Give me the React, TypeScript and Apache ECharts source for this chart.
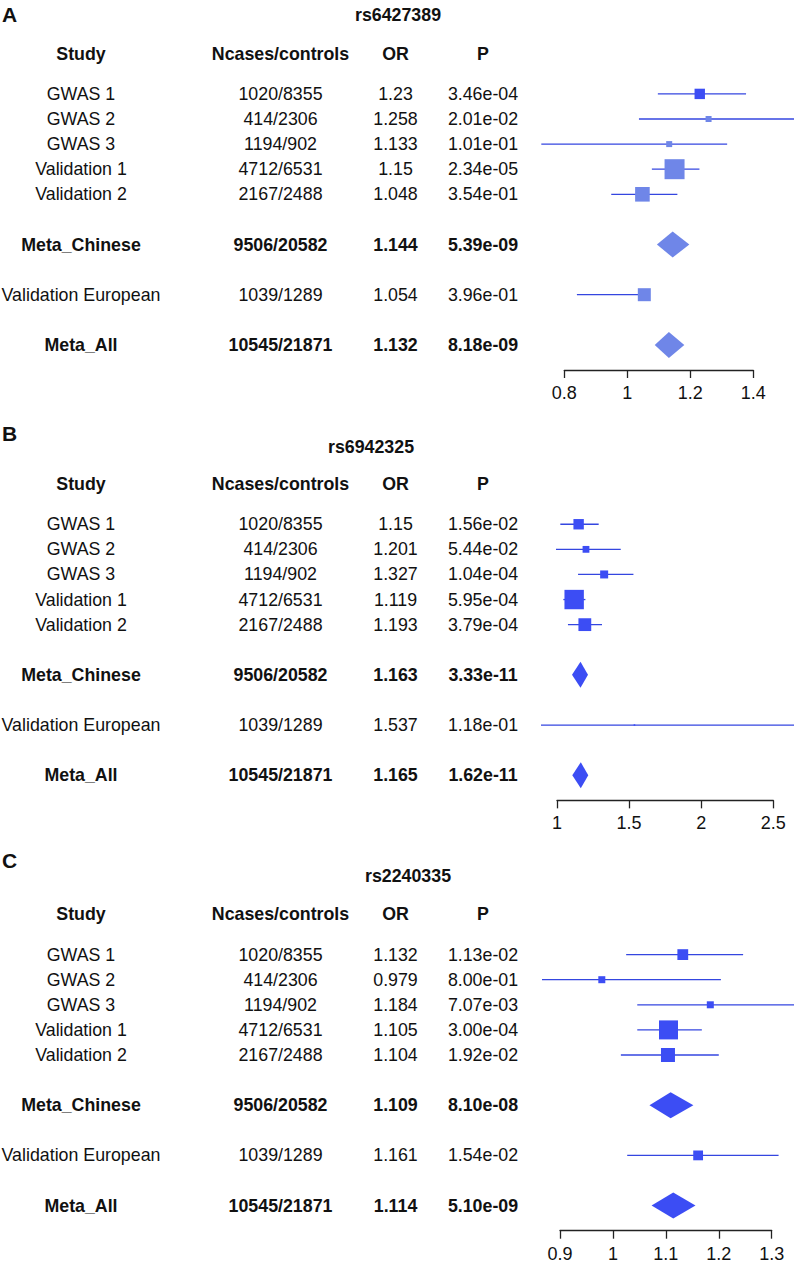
import React, { useEffect, useRef } from "react";
import * as echarts from "echarts";

// ---------- shared table columns ----------
const HEADERS = ["Study", "Ncases/controls", "OR", "P"];
const STUDIES = [
  "GWAS 1",
  "GWAS 2",
  "GWAS 3",
  "Validation 1",
  "Validation 2",
  "Meta_Chinese",
  "Validation European",
  "Meta_All",
];
const NCASES = [
  "1020/8355",
  "414/2306",
  "1194/902",
  "4712/6531",
  "2167/2488",
  "9506/20582",
  "1039/1289",
  "10545/21871",
];
const ROW_POS = [0, 1, 2, 3, 4, 6, 8, 10];
const IS_META = [false, false, false, false, false, true, false, true];

// ---------- panel A : rs6427389 ----------
const SNP_A = "rs6427389";
const OR_A = [1.23, 1.258, 1.133, 1.15, 1.048, 1.144, 1.054, 1.132];
const P_A = ["3.46e-04", "2.01e-02", "1.01e-01", "2.34e-05", "3.54e-01", "5.39e-09", "3.96e-01", "8.18e-09"];
const LO_A = [1.097, 1.037, 0.727, 1.078, 0.949, 1.094, 0.84, 1.087];
const HI_A = [1.377, 1.56, 1.317, 1.229, 1.159, 1.197, 1.07, 1.181];
const W_A = [0.52, 0.3, 0.3, 1.0, 0.73, 0, 0.65, 0];
const TICKS_A = [0.8, 1, 1.2, 1.4];
const TICK_LABELS_A = ["0.8", "1", "1.2", "1.4"];

// ---------- panel B : rs6942325 ----------
const SNP_B = "rs6942325";
const OR_B = [1.15, 1.201, 1.327, 1.119, 1.193, 1.163, 1.537, 1.165];
const P_B = ["1.56e-02", "5.44e-02", "1.04e-04", "5.95e-04", "3.79e-04", "3.33e-11", "1.18e-01", "1.62e-11"];
const LO_B = [1.023, 0.993, 1.146, 1.044, 1.076, 1.104, 0.889, 1.106];
const HI_B = [1.289, 1.442, 1.53, 1.197, 1.312, 1.215, 2.7, 1.217];
const W_B = [0.52, 0.34, 0.4, 0.97, 0.64, 0, 0.08, 0];
const TICKS_B = [1, 1.5, 2, 2.5];
const TICK_LABELS_B = ["1", "1.5", "2", "2.5"];

// ---------- panel C : rs2240335 ----------
const SNP_C = "rs2240335";
const OR_C = [1.132, 0.979, 1.184, 1.105, 1.104, 1.109, 1.161, 1.114];
const P_C = ["1.13e-02", "8.00e-01", "7.07e-03", "3.00e-04", "1.92e-02", "8.10e-08", "1.54e-02", "5.10e-09"];
const LO_C = [1.025, 0.866, 1.046, 1.046, 1.015, 1.069, 1.027, 1.073];
const HI_C = [1.246, 1.204, 1.36, 1.168, 1.2, 1.152, 1.313, 1.156];
const W_C = [0.54, 0.35, 0.35, 0.95, 0.7, 0, 0.49, 0];
const TICKS_C = [0.9, 1, 1.1, 1.2, 1.3];
const TICK_LABELS_C = ["0.9", "1", "1.1", "1.2", "1.3"];

// ---------- styles / layout ----------
const FONT = "'Liberation Sans', Arial, Helvetica, sans-serif";
const TEXT_COLOR = "#111111";
const BRIGHT = "#3c4df4";
const LIGHT = "#6f86e8";
const LINE_COLOR = "#3446e0";
const ROW_H = 25.1;
const BOX_MAX = 20;
const DIAMOND_HALF = 13;
const COL_X = [81, 280.5, 395.5, 483];
const FS = 17.8;
const TICK_FS = 18;
const TICK_LABEL_OFFSET = 23;

const PANELS = [
  {
    letter: "A", snp: SNP_A, or: OR_A, p: P_A, lo: LO_A, hi: HI_A, w: W_A, ticks: TICKS_A, tickLabels: TICK_LABELS_A,
    axisY: 370, left: 564.3, right: 753.3, titleX: 398, titleY: 15, letterY: 14.5,
    boxColors: [BRIGHT, LIGHT, LIGHT, LIGHT, LIGHT, LIGHT, LIGHT, LIGHT],
  },
  {
    letter: "B", snp: SNP_B, or: OR_B, p: P_B, lo: LO_B, hi: HI_B, w: W_B, ticks: TICKS_B, tickLabels: TICK_LABELS_B,
    axisY: 800.35, left: 557, right: 773.3, titleX: 371, titleY: 447, letterY: 433.5,
    boxColors: [BRIGHT, BRIGHT, BRIGHT, BRIGHT, BRIGHT, BRIGHT, BRIGHT, BRIGHT],
  },
  {
    letter: "C", snp: SNP_C, or: OR_C, p: P_C, lo: LO_C, hi: HI_C, w: W_C, ticks: TICKS_C, tickLabels: TICK_LABELS_C,
    axisY: 1230.7, left: 560, right: 771.7, titleX: 408, titleY: 876, letterY: 861,
    boxColors: [BRIGHT, BRIGHT, BRIGHT, BRIGHT, BRIGHT, BRIGHT, BRIGHT, BRIGHT],
  },
];

const Y_MIN = -3;
const Y_MAX = 11;

function buildOption(): any {
  const grid: any[] = [];
  const xAxis: any[] = [];
  const yAxis: any[] = [];
  const series: any[] = [];
  const graphic: any[] = [];

  PANELS.forEach((pn, k) => {
    const h = (Y_MAX - Y_MIN) * ROW_H;
    grid.push({
      left: pn.left,
      top: pn.axisY - h,
      width: pn.right - pn.left,
      height: h,
      containLabel: false,
    });
    const t0 = pn.ticks[0];
    const t1 = pn.ticks[pn.ticks.length - 1];
    xAxis.push({
      type: "value",
      gridIndex: k,
      min: t0,
      max: t1,
      interval: pn.ticks[1] - pn.ticks[0],
      axisLine: { show: true, onZero: false, lineStyle: { color: "#222", width: 1.3 } },
      axisTick: { show: true, length: 8, lineStyle: { color: "#222", width: 1.3 } },
      axisLabel: { show: false },
      splitLine: { show: false },
    });
    yAxis.push({
      type: "value",
      gridIndex: k,
      min: Y_MIN,
      max: Y_MAX,
      inverse: true,
      show: false,
      splitLine: { show: false },
    });

    // tick labels, placed through the x axis scale
    series.push({
      type: "custom",
      xAxisIndex: k,
      yAxisIndex: k,
      silent: true,
      clip: false,
      data: pn.ticks.map((t, i) => [t, Y_MAX, i]),
      renderItem: (params: any, api: any) => {
        const pt = api.coord([api.value(0), api.value(1)]);
        return {
          type: "text",
          x: pt[0],
          y: pt[1] + TICK_LABEL_OFFSET,
          style: {
            text: pn.tickLabels[api.value(2)],
            fill: TEXT_COLOR,
            fontSize: TICK_FS,
            fontFamily: FONT,
            align: "center",
            verticalAlign: "middle",
          },
        };
      },
    });

    // table text
    const tableData: any[] = [[t0, -1.6, -1]];
    ROW_POS.forEach((r, i) => tableData.push([t0, r, i]));
    series.push({
      type: "custom",
      xAxisIndex: k,
      yAxisIndex: k,
      silent: true,
      clip: false,
      data: tableData,
      renderItem: (params: any, api: any) => {
        const idx = api.value(2);
        const y = api.coord([t0, api.value(1)])[1];
        let texts: string[];
        let bold = false;
        if (idx < 0) {
          texts = HEADERS;
          bold = true;
        } else {
          texts = [STUDIES[idx], NCASES[idx], String(pn.or[idx]), pn.p[idx]];
          bold = IS_META[idx];
        }
        return {
          type: "group",
          children: texts.map((t, c) => ({
            type: "text",
            x: COL_X[c],
            y,
            style: {
              text: t,
              fill: TEXT_COLOR,
              fontSize: FS,
              fontFamily: FONT,
              fontWeight: bold ? "bold" : "normal",
              align: "center",
              verticalAlign: "middle",
            },
          })),
        };
      },
    });

    // forest marks
    const forestData = ROW_POS.map((r, i) => [pn.lo[i], pn.or[i], pn.hi[i], r, pn.w[i], IS_META[i] ? 1 : 0, i]);
    series.push({
      type: "custom",
      xAxisIndex: k,
      yAxisIndex: k,
      silent: true,
      clip: false,
      data: forestData,
      renderItem: (params: any, api: any) => {
        const lo = api.value(0);
        const est = api.value(1);
        const hi = api.value(2);
        const row = api.value(3);
        const w = api.value(4);
        const meta = api.value(5);
        const i = api.value(6);
        const pLo = api.coord([lo, row]);
        const pEst = api.coord([est, row]);
        const pHi = api.coord([hi, row]);
        const y = pEst[1];
        const color = pn.boxColors[i];
        if (meta) {
          return {
            type: "polygon",
            shape: {
              points: [
                [pLo[0], y],
                [pEst[0], y - DIAMOND_HALF],
                [pHi[0], y],
                [pEst[0], y + DIAMOND_HALF],
              ],
            },
            style: { fill: color, stroke: null },
          };
        }
        const s = Math.max(w * BOX_MAX, 1.5);
        return {
          type: "group",
          children: [
            {
              type: "line",
              shape: { x1: pLo[0], y1: y, x2: pHi[0], y2: y },
              style: { stroke: LINE_COLOR, lineWidth: 1.3 },
            },
            {
              type: "rect",
              shape: { x: pEst[0] - s / 2, y: y - s / 2, width: s, height: s },
              style: { fill: color, stroke: null },
            },
          ],
        };
      },
    });

    graphic.push({
      type: "text",
      left: 2,
      top: pn.letterY - 11,
      style: {
        text: pn.letter,
        fill: TEXT_COLOR,
        fontSize: 21,
        fontWeight: "bold",
        fontFamily: FONT,
      },
    });
    graphic.push({
      type: "text",
      x: pn.titleX,
      y: pn.titleY,
      style: {
        text: pn.snp,
        fill: TEXT_COLOR,
        fontSize: FS,
        fontWeight: "bold",
        fontFamily: FONT,
        align: "center",
        verticalAlign: "middle",
      },
    });
  });

  return {
    animation: false,
    backgroundColor: "#ffffff",
    grid,
    xAxis,
    yAxis,
    series,
    graphic,
  };
}

export default function App() {
  const ref = useRef<HTMLDivElement>(null);
  useEffect(() => {
    document.body.style.margin = "0";
    const chart = echarts.init(ref.current as HTMLDivElement, null, { renderer: "svg" });
    chart.setOption(buildOption());
    return () => chart.dispose();
  }, []);
  return (
    <div
      ref={ref}
      style={{ position: "absolute", left: 0, top: 0, width: 794, height: 1265, background: "#fff" }}
    />
  );
}
